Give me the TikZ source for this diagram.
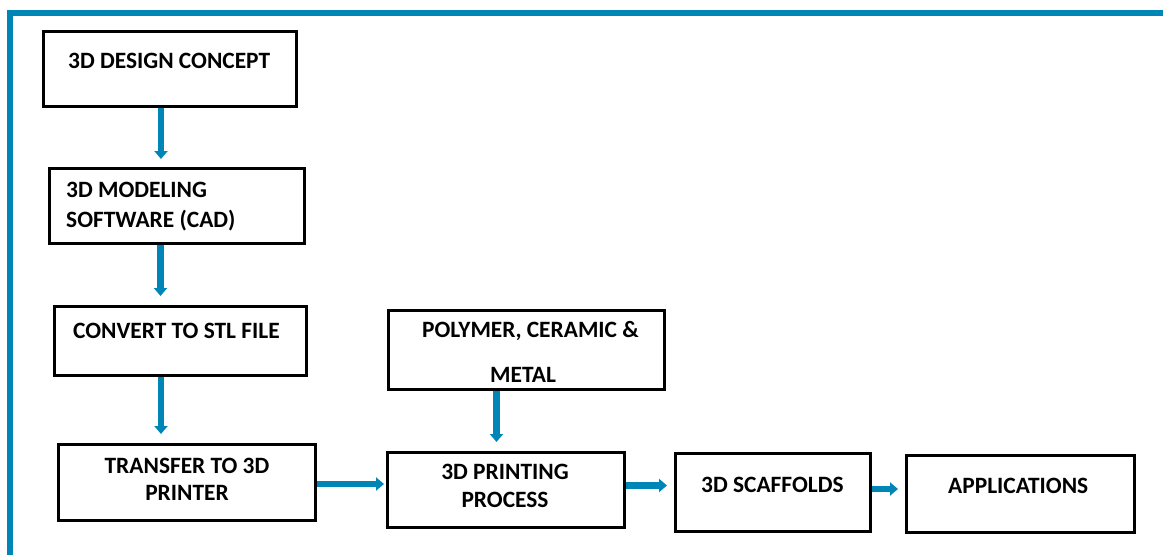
\documentclass[tikz,border=0pt]{standalone}
\usepackage{fontspec}
\setmainfont{Carlito}
\usetikzlibrary{arrows.meta}
\definecolor{frameblue}{RGB}{0,134,182}
\begin{document}
\begin{tikzpicture}[x=1pt,y=-1pt,
  box/.style={draw=black,line width=3pt,inner sep=0pt,fill=none},
  lbl/.style={inner sep=0pt,font=\fontsize{23.4}{27}\selectfont\bfseries},
  arr/.style={draw=frameblue,line width=6.5pt,-{Triangle[width=13pt,length=8pt]}}]
\useasboundingbox (0,0) rectangle (1163,555);
\fill[white] (0,0) rectangle (1163,555);
% frame
\draw[frameblue,line width=6pt,line join=miter] (10,555) -- (10,13) -- (1163,13);
% boxes
\node[box,minimum width=253pt,minimum height=75pt] (b1) at (170,69) {};
\node[box,minimum width=255pt,minimum height=75pt] (b2) at (177,206) {};
\node[box,minimum width=252pt,minimum height=69pt] (b3) at (180.5,341) {};
\node[box,minimum width=257pt,minimum height=76pt] (b4) at (187,482.5) {};
\node[box,minimum width=276pt,minimum height=79pt] (b5) at (526.5,350) {};
\node[box,minimum width=237pt,minimum height=75pt] (b6) at (506,490) {};
\node[box,minimum width=195pt,minimum height=78pt] (b7) at (773,492.5) {};
\node[box,minimum width=228pt,minimum height=77pt] (b8) at (1020.5,494) {};
% texts (base anchor of multi-line nodes = last line baseline)
\node[lbl,anchor=base west] (t1) at (68,68) {3D DESIGN CONCEPT};
\node[lbl,anchor=base west,align=left] (t2) at (66,227) {3D MODELING\\[3pt]SOFTWARE (CAD)};
\node[lbl,anchor=base west] (t3) at (73,338) {CONVERT TO STL FILE};
\node[lbl,anchor=base,align=center] (t4) at (187,500) {TRANSFER TO 3D\\PRINTER};
\node[lbl,anchor=base west] (t5a) at (422,337) {POLYMER, CERAMIC \&};
\node[lbl,anchor=base west] (t5b) at (490,382) {METAL};
\node[lbl,anchor=base,align=center] (t6) at (505,507) {3D PRINTING\\[1pt]PROCESS};
\node[lbl,anchor=base west] (t7) at (701,492) {3D SCAFFOLDS};
\node[lbl,anchor=base west] (t8) at (948,493) {APPLICATIONS};
% arrow guide coordinates
\coordinate (v1) at (161,0);
\coordinate (v2) at (160.5,0);
\coordinate (v3) at (161,0);
\coordinate (v5) at (496.5,0);
\coordinate (h4) at (0,484);
\coordinate (h6) at (0,485.5);
\coordinate (h7) at (0,489);
% arrows
\draw[arr,shorten >=8pt] (b1.south -| v1) -- (b2.north -| v1);
\draw[arr,shorten >=9pt] (b2.south -| v2) -- (b3.north -| v2);
\draw[arr,shorten >=9pt] (b3.south -| v3) -- (b4.north -| v3);
\draw[arr,shorten >=2pt] (b4.east |- h4) -- (b6.west |- h4);
\draw[arr,shorten >=9pt] (b5.south -| v5) -- (b6.north -| v5);
\draw[arr,shorten >=7pt] (b6.east |- h6) -- (b7.west |- h6);
\draw[arr,shorten >=7pt] (b7.east |- h7) -- (b8.west |- h7);
\end{tikzpicture}
\end{document}
